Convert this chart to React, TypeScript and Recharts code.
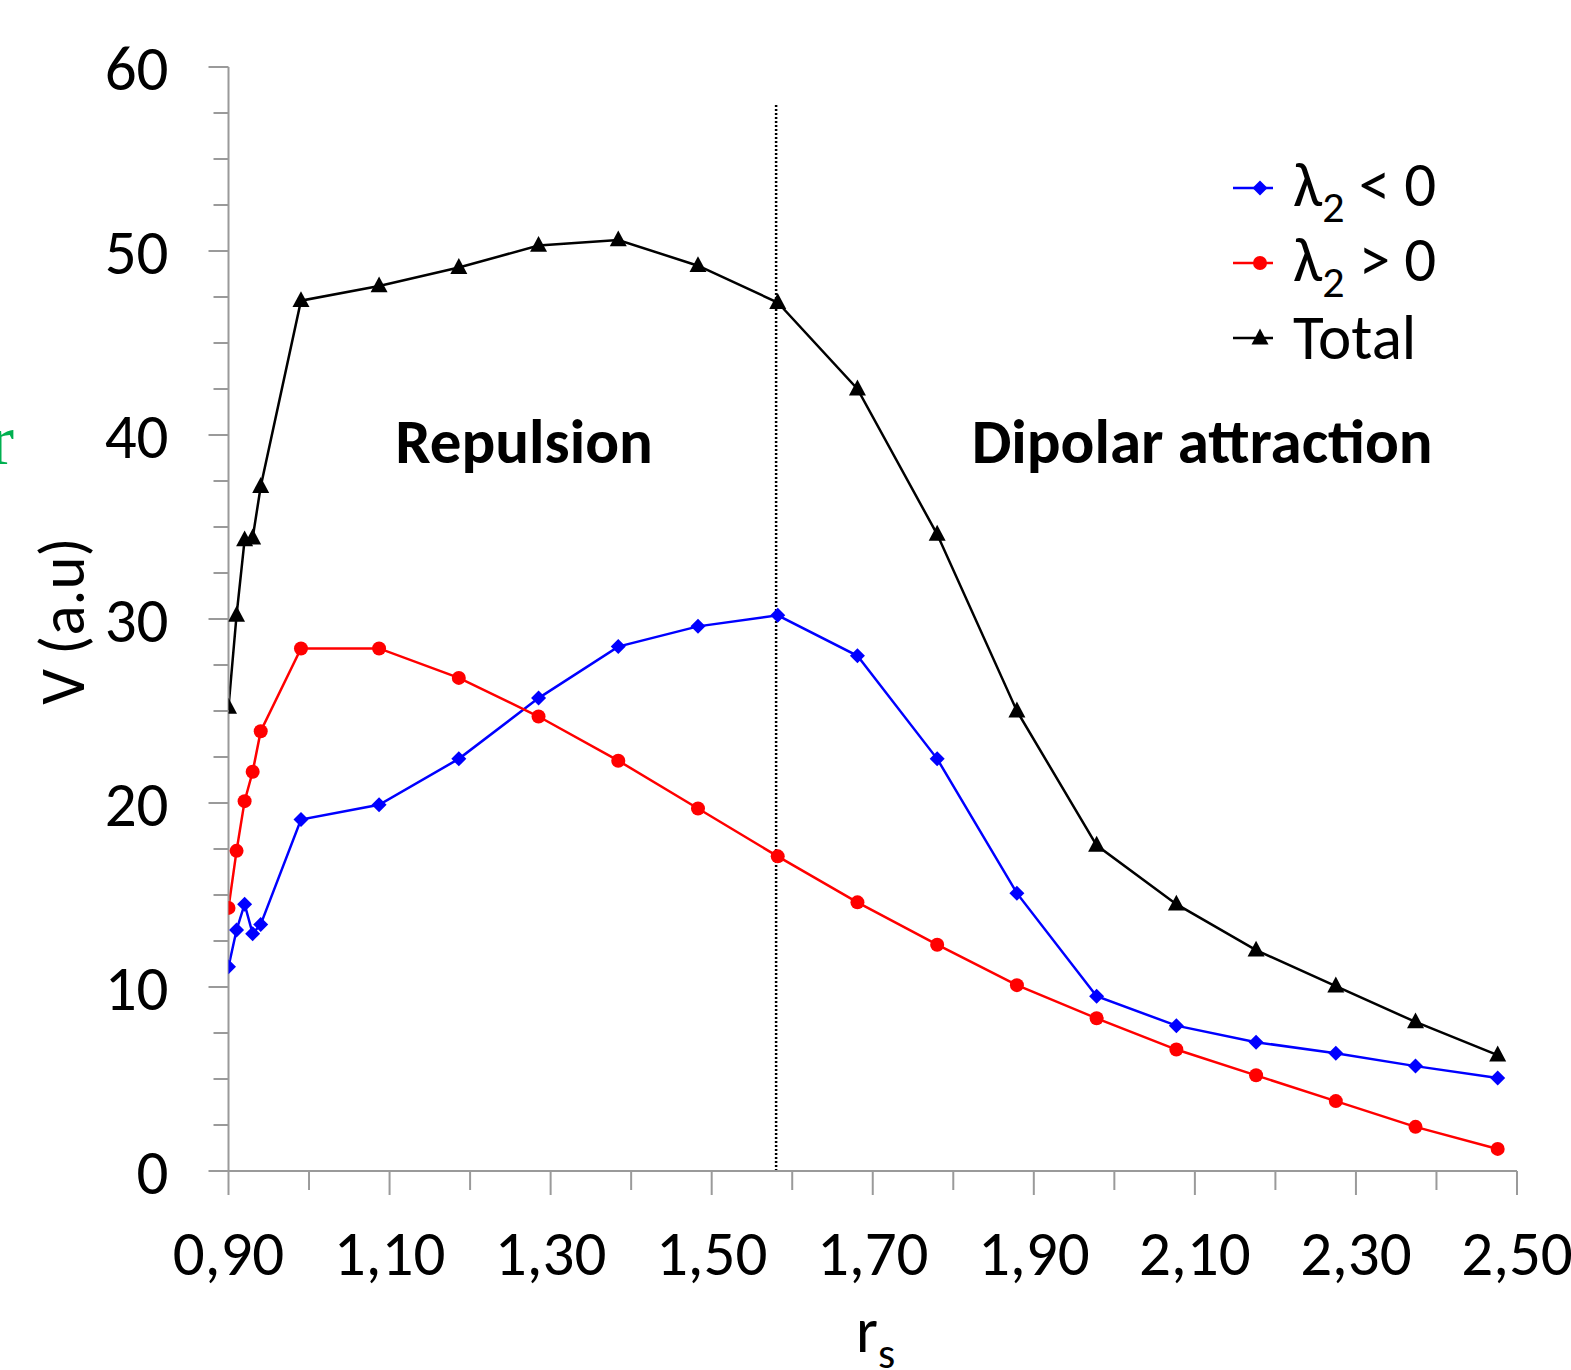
import React from 'react';
import { LineChart, Line, XAxis, YAxis, ReferenceLine, ReferenceDot, Legend } from 'recharts';

const xValues = [0.90, 0.91, 0.92, 0.93, 0.94, 0.99, 1.087, 1.186, 1.285, 1.384, 1.483, 1.582, 1.681, 1.780, 1.879, 1.978, 2.077, 2.176, 2.275, 2.374, 2.476];
const negValues = [11.1, 13.1, 14.5, 12.9, 13.4, 19.1, 19.9, 22.4, 25.7, 28.5, 29.6, 30.2, 28.0, 22.4, 15.1, 9.5, 7.9, 7.0, 6.4, 5.7, 5.05];
const posValues = [14.3, 17.4, 20.1, 21.7, 23.9, 28.4, 28.4, 26.8, 24.7, 22.3, 19.7, 17.1, 14.6, 12.3, 10.1, 8.3, 6.6, 5.2, 3.8, 2.4, 1.2];
const totalValues = [25.2, 30.2, 34.3, 34.4, 37.2, 47.3, 48.1, 49.1, 50.3, 50.6, 49.2, 47.2, 42.5, 34.6, 25.0, 17.7, 14.5, 12.0, 10.05, 8.1, 6.3];

const xTicks = [0.9, 1.0, 1.1, 1.2, 1.3, 1.4, 1.5, 1.6, 1.7, 1.8, 1.9, 2.0, 2.1, 2.2, 2.3, 2.4, 2.5];
const yTicks = [0, 2.5, 5, 7.5, 10, 12.5, 15, 17.5, 20, 22.5, 25, 27.5, 30, 32.5, 35, 37.5, 40, 42.5, 45, 47.5, 50, 52.5, 55, 57.5, 60];

const seriesNames = ['λ2 < 0', 'λ2 > 0', 'Total'];
const boundaryX = 1.58;
const boundaryTop = 58;
const regionLabels = [
  { text: 'Repulsion', x: 1.267, y: 39.7 },
  { text: 'Dipolar attraction', x: 2.109, y: 39.7 },
];

const data = xValues.map((x, i) => ({ x, neg: negValues[i], pos: posValues[i], total: totalValues[i] }));

const FONT = 'Calibri, Carlito, Lato, "Open Sans", sans-serif';
const FS = 63;
const AXIS = '#9a9a9a';

const Diamond = (props: any) => {
  const { cx, cy, color } = props;
  if (cx == null || cy == null) return null;
  const s = 7.5;
  return <polygon points={`${cx},${cy - s} ${cx + s},${cy} ${cx},${cy + s} ${cx - s},${cy}`} fill={color} stroke="none" />;
};
const Circle = (props: any) => {
  const { cx, cy, color } = props;
  if (cx == null || cy == null) return null;
  return <circle cx={cx} cy={cy} r={7} fill={color} stroke="none" />;
};
const Triangle = (props: any) => {
  const { cx, cy, color } = props;
  if (cx == null || cy == null) return null;
  const s = 8.5;
  return <polygon points={`${cx},${cy - s - 1} ${cx + s},${cy + s * 0.75} ${cx - s},${cy + s * 0.75}`} fill={color} stroke="none" />;
};

const XTick = (props: any) => {
  const { x, y, payload } = props;
  const v = payload.value;
  const major = Math.round(v * 10) % 2 === 1;
  return (
    <g>
      <line x1={x} x2={x} y1={y} y2={y + (major ? 24 : 19)} stroke={AXIS} strokeWidth={2} />
      {major && (
        <text x={x} y={y + 104} textAnchor="middle" fontFamily={FONT} fontSize={FS} fill="#000">
          {v.toFixed(2).replace('.', ',')}
        </text>
      )}
    </g>
  );
};

const YTick = (props: any) => {
  const { x, y, payload } = props;
  const v = payload.value;
  const major = v % 10 === 0;
  return (
    <g>
      <line x1={x - (major ? 20 : 15)} x2={x} y1={y} y2={y} stroke={AXIS} strokeWidth={2} />
      {major && (
        <text x={x - 60} y={y + 23} textAnchor="end" fontFamily={FONT} fontSize={FS} fill="#000">
          {String(v)}
        </text>
      )}
    </g>
  );
};

const markerFor = (name: string, color: string) => {
  if (name === seriesNames[0]) return <Diamond cx={27} cy={10} color={color} />;
  if (name === seriesNames[1]) return <Circle cx={27} cy={10} color={color} />;
  return <Triangle cx={27} cy={10} color={color} />;
};

const renderLabelText = (name: string) => {
  if (name.startsWith('λ2')) {
    return (
      <span>
        λ<span style={{ fontSize: 44, position: 'relative', top: 16 }}>2</span>
        {name.slice(2)}
      </span>
    );
  }
  return <span>{name}</span>;
};

const LegendContent = (props: any) => {
  const payload = [...(props.payload || [])].sort(
    (a: any, b: any) => seriesNames.indexOf(a.value) - seriesNames.indexOf(b.value)
  );
  return (
    <div style={{ fontFamily: FONT }}>
      {payload.map((entry: any) => (
        <div key={entry.value} style={{ display: 'flex', alignItems: 'center', height: 75 }}>
          <svg width={60} height={20} style={{ flex: 'none' }}>
            <line x1={0} x2={40} y1={10} y2={10} stroke={entry.color} strokeWidth={2.5} />
            {markerFor(entry.value, entry.color)}
          </svg>
          <div style={{ fontSize: FS, lineHeight: '75px', color: '#000', whiteSpace: 'nowrap' }}>{renderLabelText(entry.value)}</div>
        </div>
      ))}
    </div>
  );
};

const YLabel = () => (
  <text x={62} y={621} transform="rotate(-90 62 621)" textAnchor="middle" dominantBaseline="central" fontFamily={FONT} fontSize={FS} fill="#000">
    V (a.u)
  </text>
);

export default function App() {
  return (
    <div style={{ position: 'absolute', left: 0, top: 0, width: 1571, height: 1370, background: '#fff', overflow: 'hidden' }}>
      <LineChart width={1571} height={1370} data={data} margin={{ top: 67, right: 54, bottom: 99, left: 108.5 }}>
        <XAxis
          dataKey="x"
          type="number"
          domain={[0.9, 2.5]}
          ticks={xTicks}
          interval={0}
          tickSize={0}
          tickMargin={0}
          tickLine={false}
          axisLine={{ stroke: AXIS, strokeWidth: 2 }}
          tick={<XTick />}
          height={100}
          allowDataOverflow
        />
        <YAxis
          type="number"
          domain={[0, 60]}
          ticks={yTicks}
          interval={0}
          tickSize={0}
          tickMargin={0}
          tickLine={false}
          axisLine={{ stroke: AXIS, strokeWidth: 2 }}
          tick={<YTick />}
          width={120}
          label={<YLabel />}
        />
        <ReferenceLine
          segment={[{ x: boundaryX, y: 0 }, { x: boundaryX, y: boundaryTop }]}
          stroke="#000"
          strokeWidth={2.5}
          strokeDasharray="2 2"
        />
        {regionLabels.map((r) => (
          <ReferenceDot
            key={r.text}
            x={r.x}
            y={r.y}
            r={0}
            fill="none"
            stroke="none"
            label={{ value: r.text, position: 'center', fontFamily: FONT, fontSize: FS, fontWeight: 700, fill: '#000' }}
          />
        ))}
        <Line dataKey="neg" name={seriesNames[0]} stroke="#0000ff" strokeWidth={2.5} dot={<Diamond color="#0000ff" />} activeDot={false} isAnimationActive={false} />
        <Line dataKey="pos" name={seriesNames[1]} stroke="#ff0000" strokeWidth={2.5} dot={<Circle color="#ff0000" />} activeDot={false} isAnimationActive={false} />
        <Line dataKey="total" name={seriesNames[2]} stroke="#000000" strokeWidth={2.5} dot={<Triangle color="#000000" />} activeDot={false} isAnimationActive={false} />
        <Legend
          layout="vertical"
          align="center"
          verticalAlign="middle"
          content={<LegendContent />}
          wrapperStyle={{ position: 'absolute', left: 1233, top: 150, width: 330 }}
        />
      </LineChart>
      <div style={{ position: 'absolute', left: 856, top: 1296, fontFamily: FONT, fontSize: FS, lineHeight: '70px', color: '#000' }}>
        r<span style={{ fontSize: 44, position: 'relative', top: 16 }}>s</span>
      </div>
      <div style={{ position: 'absolute', left: -10, top: 400, fontFamily: '"Liberation Serif", serif', fontSize: 72, lineHeight: '80px', color: '#00b050' }}>
        r
      </div>
    </div>
  );
}
